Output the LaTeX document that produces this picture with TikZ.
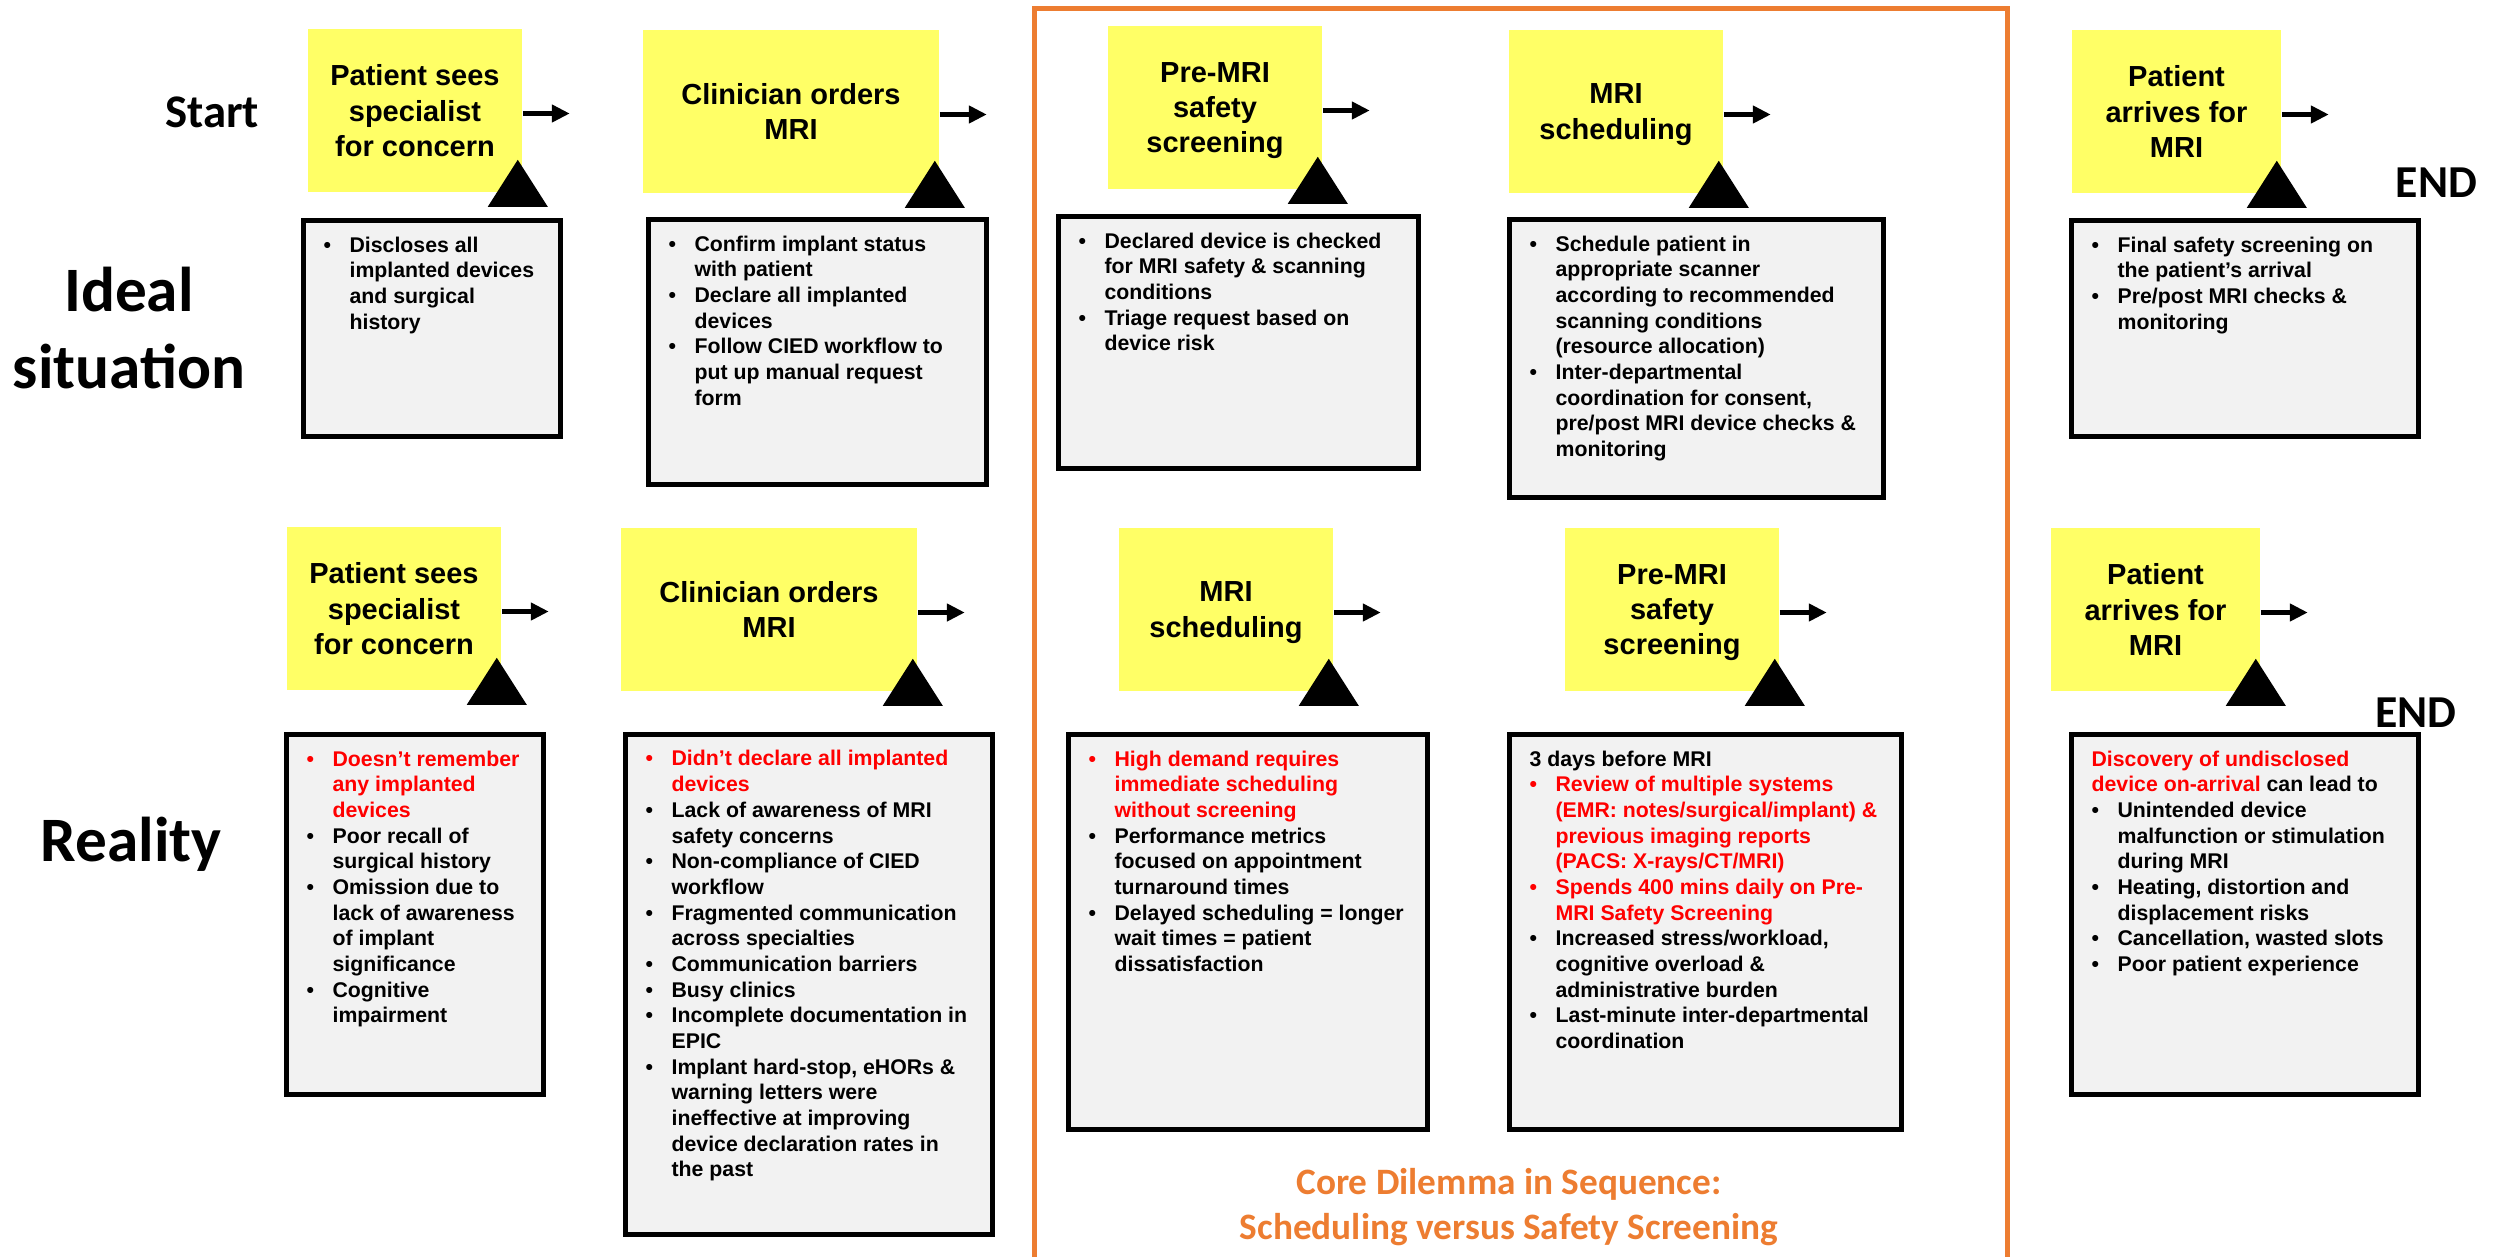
\documentclass[tikz,border=0pt]{standalone}
\usepackage{fontspec}
\setmainfont{Liberation Sans}
\newfontfamily\calibri{Carlito}
\usepackage{xcolor}
\usepackage{tikz}
\usetikzlibrary{arrows.meta, positioning, calc}

\definecolor{stepyellow}{HTML}{FFFF66}
\definecolor{notegray}{HTML}{F2F2F2}
\definecolor{dilemma}{HTML}{ED7D31}
\definecolor{alert}{HTML}{FF0000}

\newcommand{\bl}{\makebox[0.26cm][l]{\textbullet}}
\newcommand{\ct}{\hspace*{0.26cm}}

\begin{document}
\begin{tikzpicture}[x=0.01cm, y=-0.01cm,
    stepbox/.style={fill=stepyellow, inner sep=0pt, align=center, minimum height=1.63cm, text depth=0pt,
        font=\fontsize{8.25}{10.05}\selectfont\bfseries},
    notebox/.style={draw=black, fill=notegray, line width=0.05cm},
    notetext/.style={anchor=north west, inner sep=0pt, align=left,
        font=\fontsize{6.05}{7.3}\selectfont\bfseries},
    flow/.style={line width=0.055cm, -{Triangle[length=0.18cm, width=0.17cm]}},
    rowlabel/.style={font=\calibri\bfseries\fontsize{18}{21.9}\selectfont, align=center, inner sep=0pt},
    endlabel/.style={font=\calibri\bfseries\fontsize{13}{15}\selectfont, anchor=base, inner sep=0pt}
]
    \useasboundingbox (0,0) rectangle (2494,1257);

    % Row labels
    \node[endlabel, font=\calibri\bfseries\fontsize{13.3}{16}\selectfont] (start) at (212,127) {Start};
    \node[rowlabel] (ideal) at (129,328) {Ideal\\situation};
    \node[rowlabel, anchor=base] (reality) at (131,861) {Reality};
    \node[endlabel] (end1) at (2436.5,197) {END};
    \node[endlabel] (end2) at (2416,727) {END};

    % Core dilemma frame
    \draw[dilemma, line width=0.05cm] (1034.5,1257) -- (1034.5,8.5) -- (2007.5,8.5) -- (2007.5,1257);
    \node[font=\calibri\bfseries\fontsize{10.6}{12.6}\selectfont, text=dilemma, align=center, inner sep=0pt]
        (core) at (1509,1207) {Core Dilemma in Sequence:\\Scheduling versus Safety Screening};

    % Ideal situation: steps
    \node[stepbox, minimum width=2.14cm] (p1) at (415,110.5) {Patient sees\\specialist\\for concern};
    \node[stepbox, minimum width=2.96cm] (p2) at (791,111.5) {Clinician orders\\MRI};
    \node[stepbox, minimum width=2.14cm] (p3) at (1215,107.5) {Pre-MRI\\safety\\screening};
    \node[stepbox, minimum width=2.14cm] (p4) at (1616,111.5) {MRI\\scheduling};
    \node[stepbox, minimum width=2.09cm] (p5) at (2176.5,111.5) {Patient\\arrives for\\MRI};

    % Reality: steps
    \node[stepbox, minimum width=2.14cm] (q1) at (394,608.5) {Patient sees\\specialist\\for concern};
    \node[stepbox, minimum width=2.96cm] (q2) at (769,609.5) {Clinician orders\\MRI};
    \node[stepbox, minimum width=2.14cm] (q3) at (1226,609.5) {MRI\\scheduling};
    \node[stepbox, minimum width=2.14cm] (q4) at (1672,609.5) {Pre-MRI\\safety\\screening};
    \node[stepbox, minimum width=2.09cm] (q5) at (2155.5,609.5) {Patient\\arrives for\\MRI};

    % Arrows and markers
    \foreach \n in {p1,p2,p3,p4,p5,q1,q2,q3,q4,q5} {
        \draw[flow] ([yshift=-0.03cm]\n.east) -- ++(47,0) coordinate (\n-out);
        \fill ($(\n.south east)+(-5,-33)$) -- ++(30,47) -- ++(-60,0) -- cycle;
    }

    % Ideal situation: notes
    \node[notebox, minimum width=2.57cm, minimum height=2.16cm] (a1) at (432,328.5) {};
    \node[notetext] (a1t) at ($(a1.north west)+(22,18)$) {\bl Discloses all\\
        \ct implanted devices\\
        \ct and surgical\\
        \ct history};

    \node[notebox, minimum width=3.38cm, minimum height=2.65cm] (a2) at (817.5,352) {};
    \node[notetext] (a2t) at ($(a2.north west)+(22,18)$) {\bl Confirm implant status\\
        \ct with patient\\
        \bl Declare all implanted\\
        \ct devices\\
        \bl Follow CIED workflow to\\
        \ct put up manual request\\
        \ct form};

    \node[notebox, minimum width=3.60cm, minimum height=2.52cm] (a3) at (1238.5,342.5) {};
    \node[notetext] (a3t) at ($(a3.north west)+(22,18)$) {\bl Declared device is checked\\
        \ct for MRI safety \& scanning\\
        \ct conditions\\
        \bl Triage request based on\\
        \ct device risk};

    \node[notebox, minimum width=3.74cm, minimum height=2.78cm] (a4) at (1696.5,358.5) {};
    \node[notetext] (a4t) at ($(a4.north west)+(22,18)$) {\bl Schedule patient in\\
        \ct appropriate scanner\\
        \ct according to recommended\\
        \ct scanning conditions\\
        \ct (resource allocation)\\
        \bl Inter-departmental\\
        \ct coordination for consent,\\
        \ct pre/post MRI device checks \&\\
        \ct monitoring};

    \node[notebox, minimum width=3.47cm, minimum height=2.16cm] (a5) at (2245,328.5) {};
    \node[notetext] (a5t) at ($(a5.north west)+(22,18)$) {\bl Final safety screening on\\
        \ct the patient’s arrival\\
        \bl Pre/post MRI checks \&\\
        \ct monitoring};

    % Reality: notes
    \node[notebox, minimum width=2.57cm, minimum height=3.60cm] (b1) at (415,914.5) {};
    \node[notetext] (b1t) at ($(b1.north west)+(22,18)$) {\textcolor{alert}{\bl Doesn’t remember}\\
        \textcolor{alert}{\ct any implanted}\\
        \textcolor{alert}{\ct devices}\\
        \bl Poor recall of\\
        \ct surgical history\\
        \bl Omission due to\\
        \ct lack of awareness\\
        \ct of implant\\
        \ct significance\\
        \bl Cognitive\\
        \ct impairment};

    \node[notebox, minimum width=3.67cm, minimum height=5.00cm] (b2) at (809,984.5) {};
    \node[notetext] (b2t) at ($(b2.north west)+(22,18)$) {\textcolor{alert}{\bl Didn’t declare all implanted}\\
        \textcolor{alert}{\ct devices}\\
        \bl Lack of awareness of MRI\\
        \ct safety concerns\\
        \bl Non-compliance of CIED\\
        \ct workflow\\
        \bl Fragmented communication\\
        \ct across specialties\\
        \bl Communication barriers\\
        \bl Busy clinics\\
        \bl Incomplete documentation in\\
        \ct EPIC\\
        \bl Implant hard-stop, eHORs \&\\
        \ct warning letters were\\
        \ct ineffective at improving\\
        \ct device declaration rates in\\
        \ct the past};

    \node[notebox, minimum width=3.59cm, minimum height=3.95cm] (b3) at (1248,932) {};
    \node[notetext] (b3t) at ($(b3.north west)+(22,18)$) {\textcolor{alert}{\bl High demand requires}\\
        \textcolor{alert}{\ct immediate scheduling}\\
        \textcolor{alert}{\ct without screening}\\
        \bl Performance metrics\\
        \ct focused on appointment\\
        \ct turnaround times\\
        \bl Delayed scheduling = longer\\
        \ct wait times = patient\\
        \ct dissatisfaction};

    \node[notebox, minimum width=3.92cm, minimum height=3.95cm] (b4) at (1705.5,932) {};
    \node[notetext] (b4t) at ($(b4.north west)+(22,18)$) {3 days before MRI\\
        \textcolor{alert}{\bl Review of multiple systems}\\
        \textcolor{alert}{\ct (EMR: notes/surgical/implant) \&}\\
        \textcolor{alert}{\ct previous imaging reports}\\
        \textcolor{alert}{\ct (PACS: X-rays/CT/MRI)}\\
        \textcolor{alert}{\bl Spends 400 mins daily on Pre-}\\
        \textcolor{alert}{\ct MRI Safety Screening}\\
        \bl Increased stress/workload,\\
        \ct cognitive overload \&\\
        \ct administrative burden\\
        \bl Last-minute inter-departmental\\
        \ct coordination};

    \node[notebox, minimum width=3.47cm, minimum height=3.60cm] (b5) at (2245,914.5) {};
    \node[notetext] (b5t) at ($(b5.north west)+(22,18)$) {\textcolor{alert}{Discovery of undisclosed}\\
        \textcolor{alert}{device on-arrival} can lead to\\
        \bl Unintended device\\
        \ct malfunction or stimulation\\
        \ct during MRI\\
        \bl Heating, distortion and\\
        \ct displacement risks\\
        \bl Cancellation, wasted slots\\
        \bl Poor patient experience};
\end{tikzpicture}
\end{document}
